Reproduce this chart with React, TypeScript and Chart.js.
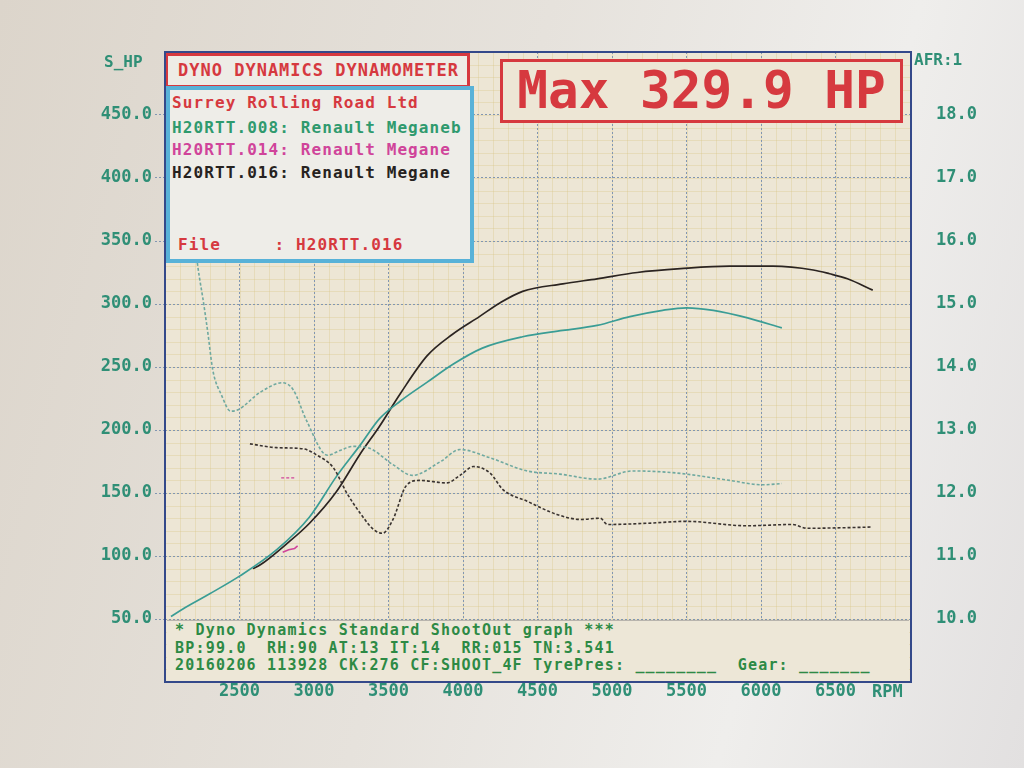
import React, { useEffect, useRef } from "react";
import { Chart, registerables } from "chart.js";

Chart.register(...registerables);

// ---- axis ticks ----
const RPM_TICKS = [2500, 3000, 3500, 4000, 4500, 5000, 5500, 6000, 6500];
const HP_TICKS = [50, 100, 150, 200, 250, 300, 350, 400, 450];
const AFR_TICKS = [10, 11, 12, 13, 14, 15, 16, 17, 18];

// ---- H20RTT.008 (teal) power ----
const RPM_008_HP = [2040, 2120, 2300, 2500, 2750, 2970, 3150, 3310, 3440, 3580, 3760, 3930, 4130, 4400, 4670, 4900, 5120, 5340, 5500, 5680, 5910, 6140];
const HP_008 = [52, 58, 70, 84, 105, 131, 163, 188, 209, 223, 238, 252, 265, 274, 279, 283, 290, 295, 297, 295, 289, 281];

// ---- H20RTT.016 (black) power ----
const RPM_016_HP = [2590, 2640, 2820, 2970, 3150, 3310, 3440, 3580, 3760, 3930, 4110, 4250, 4400, 4670, 4900, 5170, 5460, 5790, 6080, 6350, 6460, 6580, 6750];
const HP_016 = [90, 93, 110, 126, 151, 181, 203, 229, 259, 276, 290, 301, 310, 316, 320, 325, 328, 330, 330, 327, 324, 320, 311];

// ---- H20RTT.014 (magenta) power fragment ----
const RPM_014_HP = [2790, 2830, 2870, 2890];
const HP_014 = [103, 105, 106, 108];

// ---- H20RTT.008 (teal) AFR ----
const RPM_008_AFR = [2170, 2220, 2260, 2290, 2320, 2380, 2440, 2490, 2640, 2790, 2860, 2950, 3090, 3180, 3260, 3360, 3530, 3660, 3850, 3980, 4180, 4430, 4650, 4900, 5140, 5370, 5500, 5790, 6010, 6140];
const AFR_008 = [16.6, 15.6, 15.0, 14.5, 13.96, 13.55, 13.3, 13.32, 13.6, 13.75, 13.64, 13.15, 12.6, 12.68, 12.74, 12.72, 12.45, 12.28, 12.5, 12.69, 12.56, 12.35, 12.3, 12.22, 12.35, 12.33, 12.3, 12.2, 12.13, 12.15];

// ---- H20RTT.016 (black) AFR ----
const RPM_016_AFR = [2570, 2750, 2930, 3020, 3130, 3220, 3310, 3400, 3460, 3530, 3620, 3710, 3890, 3980, 4070, 4180, 4270, 4430, 4630, 4790, 4920, 4970, 5240, 5500, 5900, 6210, 6310, 6580, 6745];
const AFR_016 = [12.78, 12.72, 12.7, 12.6, 12.4, 12.0, 11.68, 11.42, 11.36, 11.58, 12.12, 12.2, 12.16, 12.28, 12.42, 12.32, 12.05, 11.87, 11.66, 11.58, 11.6, 11.5, 11.52, 11.55, 11.48, 11.5, 11.44, 11.45, 11.46];

// ---- H20RTT.014 (magenta) AFR fragment ----
const RPM_014_AFR = [2780, 2870];
const AFR_014 = [12.24, 12.24];

const MONO = "'DejaVu Sans Mono', 'Liberation Mono', monospace";
const PLOT_BG = "#ede6d5";
const TEAL_TXT = "#2f8f76";
const RED = "#d6393f";

const pts = (xs: number[], ys: number[]) => xs.map((x, i) => ({ x, y: ys[i] }));

const minorGrid = {
  id: "minorGrid",
  beforeDraw(chart: any) {
    const { ctx, chartArea: a, scales } = chart;
    ctx.save();
    ctx.fillStyle = PLOT_BG;
    ctx.fillRect(a.left, a.top, a.right - a.left, a.bottom - a.top);
    ctx.strokeStyle = "rgba(214,196,130,0.32)";
    ctx.lineWidth = 1;
    ctx.beginPath();
    for (let r = 2000; r <= 7000; r += 100) {
      const px = Math.round(scales.x.getPixelForValue(r)) + 0.5;
      ctx.moveTo(px, a.top);
      ctx.lineTo(px, a.bottom);
    }
    for (let h = 0; h <= 500; h += 10) {
      const py = Math.round(scales.y.getPixelForValue(h)) + 0.5;
      ctx.moveTo(a.left, py);
      ctx.lineTo(a.right, py);
    }
    ctx.stroke();
    ctx.restore();
  },
};

export default function App() {
  const ref = useRef<HTMLCanvasElement | null>(null);

  useEffect(() => {
    if (!ref.current) return;
    const tickFont = { family: MONO, size: 17, weight: "bold" as const };
    const gridColor = "#8196b2";
    const chart = new Chart(ref.current, {
      type: "line",
      data: {
        datasets: [
          {
            label: "H20RTT.008 AFR",
            data: pts(RPM_008_AFR, AFR_008),
            yAxisID: "y1",
            borderColor: "#6fa9a0",
            borderWidth: 1.6,
            borderDash: [3, 2],
            pointRadius: 0,
            cubicInterpolationMode: "monotone",
          },
          {
            label: "H20RTT.016 AFR",
            data: pts(RPM_016_AFR, AFR_016),
            yAxisID: "y1",
            borderColor: "#3a3330",
            borderWidth: 1.6,
            borderDash: [3, 2],
            pointRadius: 0,
            cubicInterpolationMode: "monotone",
          },
          {
            label: "H20RTT.014 AFR",
            data: pts(RPM_014_AFR, AFR_014),
            yAxisID: "y1",
            borderColor: "#d0449a",
            borderWidth: 1.4,
            borderDash: [3, 2],
            pointRadius: 0,
          },
          {
            label: "H20RTT.008 Power",
            data: pts(RPM_008_HP, HP_008),
            yAxisID: "y",
            borderColor: "#3a9d95",
            borderWidth: 1.7,
            pointRadius: 0,
            cubicInterpolationMode: "monotone",
          },
          {
            label: "H20RTT.016 Power",
            data: pts(RPM_016_HP, HP_016),
            yAxisID: "y",
            borderColor: "#2b2421",
            borderWidth: 1.7,
            pointRadius: 0,
            cubicInterpolationMode: "monotone",
          },
          {
            label: "H20RTT.014 Power",
            data: pts(RPM_014_HP, HP_014),
            yAxisID: "y",
            borderColor: "#d0449a",
            borderWidth: 1.5,
            pointRadius: 0,
          },
        ],
      },
      options: {
        responsive: false,
        animation: false,
        parsing: true,
        layout: { padding: { top: 52, left: 0, right: 0, bottom: 0 } },
        plugins: { legend: { display: false }, tooltip: { enabled: false } },
        scales: {
          x: {
            type: "linear",
            min: 2000,
            max: 7000,
            afterBuildTicks: (s: any) => {
              s.ticks = RPM_TICKS.map((v) => ({ value: v }));
            },
            afterFit: (s: any) => {
              s.height = 86;
            },
            ticks: {
              font: tickFont,
              color: TEAL_TXT,
              padding: -1,
              maxRotation: 0,
              callback: (v: any) => String(v),
            },
            grid: { color: gridColor, lineWidth: 1, drawTicks: false },
            border: { display: false, dash: [2, 2] },
          },
          y: {
            type: "linear",
            position: "left",
            min: 0,
            max: 500,
            afterBuildTicks: (s: any) => {
              s.ticks = HP_TICKS.map((v) => ({ value: v }));
            },
            afterFit: (s: any) => {
              s.width = 165;
            },
            ticks: {
              font: tickFont,
              color: TEAL_TXT,
              padding: 3,
              callback: (v: any) => Number(v).toFixed(1),
            },
            grid: {
              color: gridColor,
              lineWidth: 1,
              drawTicks: true,
              tickLength: 10,
              tickColor: gridColor,
              tickBorderDash: [2, 2],
            },
            border: { display: false, dash: [2, 2] },
          },
          y1: {
            type: "linear",
            position: "right",
            min: 9,
            max: 19,
            afterBuildTicks: (s: any) => {
              s.ticks = AFR_TICKS.map((v) => ({ value: v }));
            },
            afterFit: (s: any) => {
              s.width = 114;
            },
            ticks: {
              font: tickFont,
              color: TEAL_TXT,
              padding: 18,
              callback: (v: any) => Number(v).toFixed(1),
            },
            grid: { display: false },
            border: { display: false },
          },
        },
      },
      plugins: [minorGrid],
    } as any);
    return () => chart.destroy();
  }, []);

  const abs = (s: React.CSSProperties): React.CSSProperties => ({ position: "absolute", fontFamily: MONO, whiteSpace: "pre", margin: 0, ...s });

  return (
    <div
      style={{
        position: "absolute",
        left: 0,
        top: 0,
        width: 1024,
        height: 768,
        overflow: "hidden",
        background: "linear-gradient(105deg, #dcd5cb 0%, #e6e2dc 45%, #efeeec 75%, #e2e0e0 100%)",
      }}
    >
      <canvas ref={ref} width={1024} height={768} style={{ position: "absolute", left: 0, top: 0, width: 1024, height: 768 }} />

      {/* axis titles */}
      <div style={abs({ left: 104, top: 52, fontSize: 16, fontWeight: "bold", color: TEAL_TXT, lineHeight: "20px" })}>S_HP</div>
      <div style={abs({ left: 914, top: 50, fontSize: 16, fontWeight: "bold", color: TEAL_TXT, lineHeight: "20px" })}>AFR:1</div>
      <div style={abs({ left: 872, top: 681, fontSize: 17, fontWeight: "bold", color: TEAL_TXT, lineHeight: "20px" })}>RPM</div>

      {/* title box */}
      <div
        style={abs({
          left: 165,
          top: 53,
          width: 305,
          height: 35,
          boxSizing: "border-box",
          border: `3px solid ${RED}`,
          background: "#eeece6",
          color: RED,
          fontSize: 17,
          fontWeight: "bold",
          letterSpacing: 1,
          paddingLeft: 10,
          lineHeight: "29px",
        })}
      >
        DYNO DYNAMICS DYNAMOMETER
      </div>

      {/* legend box */}
      <div
        style={abs({
          left: 166,
          top: 86,
          width: 308,
          height: 177,
          boxSizing: "border-box",
          border: "4px solid #58b2d8",
          background: "#eeede8",
        })}
      />
      <div style={abs({ left: 172, top: 93, fontSize: 16, fontWeight: "bold", letterSpacing: 1.1, color: RED, lineHeight: "20px" })}>Surrey Rolling Road Ltd</div>
      <div style={abs({ left: 172, top: 118, fontSize: 16, fontWeight: "bold", letterSpacing: 1.1, color: "#2f9a6e", lineHeight: "20px" })}>H20RTT.008: Renault Meganeb</div>
      <div style={abs({ left: 172, top: 140, fontSize: 16, fontWeight: "bold", letterSpacing: 1.1, color: "#d0449a", lineHeight: "20px" })}>H20RTT.014: Renault Megane</div>
      <div style={abs({ left: 172, top: 163, fontSize: 16, fontWeight: "bold", letterSpacing: 1.1, color: "#262220", lineHeight: "20px" })}>H20RTT.016: Renault Megane</div>
      <div style={abs({ left: 178, top: 235, fontSize: 16, fontWeight: "bold", letterSpacing: 1.1, color: RED, lineHeight: "20px" })}>File     : H20RTT.016</div>

      {/* max box */}
      <div
        style={abs({
          left: 500,
          top: 59,
          width: 403,
          height: 64,
          boxSizing: "border-box",
          border: `3px solid ${RED}`,
          background: PLOT_BG,
          color: RED,
          fontSize: 51,
          fontWeight: 600,
          lineHeight: "58px",
          textAlign: "center",
        })}
      >
        Max 329.9 HP
      </div>

      {/* bottom info block */}
      <div
        style={abs({
          left: 167,
          top: 620,
          width: 742,
          height: 61,
          background: "#ede7d7",
          borderTop: "1px solid #b8b4ad",
        })}
      />
      <div style={abs({ left: 175, top: 621, fontSize: 15, fontWeight: "bold", letterSpacing: 1.2, color: "#2d8a45", lineHeight: "18px" })}>* Dyno Dynamics Standard ShootOut graph ***</div>
      <div style={abs({ left: 175, top: 639, fontSize: 15, fontWeight: "bold", letterSpacing: 1.2, color: "#2d8a45", lineHeight: "18px" })}>BP:99.0  RH:90 AT:13 IT:14  RR:015 TN:3.541</div>
      <div style={abs({ left: 175, top: 656, fontSize: 15, fontWeight: "bold", letterSpacing: 1.2, color: "#2d8a45", lineHeight: "18px" })}>20160206 113928 CK:276 CF:SHOOT_4F TyrePres: ________  Gear: _______</div>

      {/* outer frame */}
      <div
        style={abs({
          left: 164,
          top: 51,
          width: 748,
          height: 632,
          boxSizing: "border-box",
          border: "2px solid #34498a",
          pointerEvents: "none",
        })}
      />
    </div>
  );
}
